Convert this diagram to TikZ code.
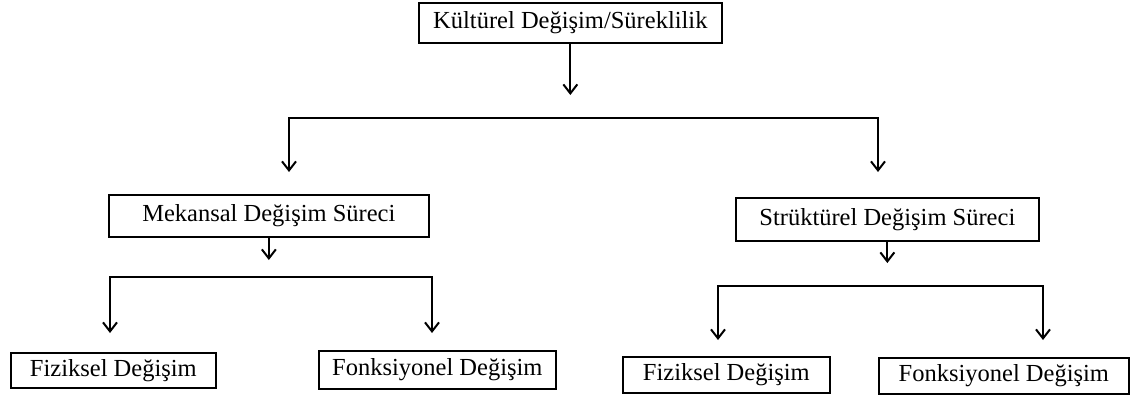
\documentclass[tikz,border=0pt]{standalone}
\usepackage{fontspec}
\setmainfont{Liberation Serif}
\usetikzlibrary{arrows.meta}
\begin{document}
\begin{tikzpicture}[x=1pt,y=-1pt,
  box/.style={draw,line width=1.7pt,anchor=north west,inner sep=0pt,font=\fontsize{24.5}{27}\selectfont},
  arr/.style={line width=2pt,-{Straight Barb[length=9pt,width=14pt,line width=2pt]}}]
\useasboundingbox (0,0) rectangle (1130,394);
\node[box,minimum width=303pt,minimum height=40pt] (top) at (418,2) {Kültürel Değişim/Süreklilik};
\node[box,minimum width=320pt,minimum height=42pt] (mek) at (108,194) {Mekansal Değişim Süreci};
\node[box,minimum width=303pt,minimum height=43pt] (str) at (735,197) {Strüktürel Değişim Süreci};
\node[box,minimum width=205pt,minimum height=35pt] (fl) at (10,352) {Fiziksel Değişim};
\node[box,minimum width=237pt,minimum height=38pt] (kl) at (318,350) {Fonksiyonel Değişim};
\node[box,minimum width=207pt,minimum height=36pt] (fr) at (622,356) {Fiziksel Değişim};
\node[box,minimum width=250pt,minimum height=36pt] (kr) at (878,357) {Fonksiyonel Değişim};
\coordinate (t1) at (top.south |- 0,95);
\coordinate (m0) at (565,118);
\coordinate (ml) at (289,172);
\coordinate (mr) at (878,172);
\coordinate (m1) at (mek.south |- 0,260);
\coordinate (b1) at (268,277);
\coordinate (bl1) at (110,333);
\coordinate (bl2) at (432,333);
\coordinate (s1) at (str.south |- 0,263);
\coordinate (b2) at (880,286);
\coordinate (br1) at (718,340);
\coordinate (br2) at (1043,340);
\draw[arr] (top.south) -- (t1);
\draw[arr] (m0) -| (ml);
\draw[arr] (m0) -| (mr);
\draw[arr] (mek.south) -- (m1);
\draw[arr] (b1) -| (bl1);
\draw[arr] (b1) -| (bl2);
\draw[arr] (str.south) -- (s1);
\draw[arr] (b2) -| (br1);
\draw[arr] (b2) -| (br2);
\end{tikzpicture}
\end{document}
